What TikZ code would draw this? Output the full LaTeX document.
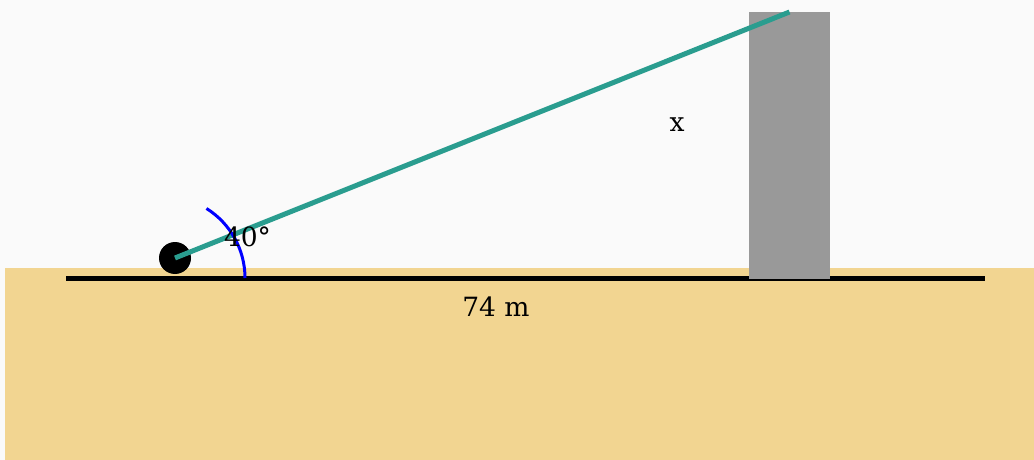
\documentclass[tikz,border=0pt]{standalone}
\usepackage{fontspec}
\setmainfont{DejaVu Serif}
\definecolor{skybg}{HTML}{FAFAFA}
\definecolor{sand}{HTML}{F2D591}
\definecolor{towergray}{HTML}{999999}
\definecolor{ropegreen}{HTML}{2A9D8F}
\usetikzlibrary{positioning}

\begin{document}
\begin{tikzpicture}[x=1pt,y=-1pt,
    lbl/.style={font=\fontsize{26.5}{32}\selectfont, inner sep=0pt, anchor=base}]
  \useasboundingbox (0,0) rectangle (1034,460);
  % Sky and ground
  \fill[skybg] (0,0) rectangle (1034,460);
  \fill[sand] (5,268) rectangle (1034,460);
  \coordinate (groundleft) at (66,278);
  \coordinate (groundright) at (985,278);
  \draw[line width=5pt] (groundleft) -- (groundright);

  % Tower
  \node[fill=towergray, minimum width=81pt, minimum height=267pt, inner sep=0pt, anchor=north] (tower) at (789.5,12) {};

  % Observer and line of sight
  \node[circle, fill=black, minimum size=32pt, inner sep=0pt] (ball) at (175,258) {};
  \draw[ropegreen, line width=5pt] (ball.center) -- (tower.north);

  % Angle arc
  \coordinate (arcstart) at (245,278);
  \draw[blue, line width=3pt] (arcstart) arc[start angle=0, end angle=-58, radius=82];

  % Labels
  \node[lbl] (anglelabel) at (247.5,246.5) {40°};
  \node[lbl] (heightlabel) at (677,131) {x};
  \node[lbl] (distlabel) at (496,316.5) {74 m};
\end{tikzpicture}
\end{document}
